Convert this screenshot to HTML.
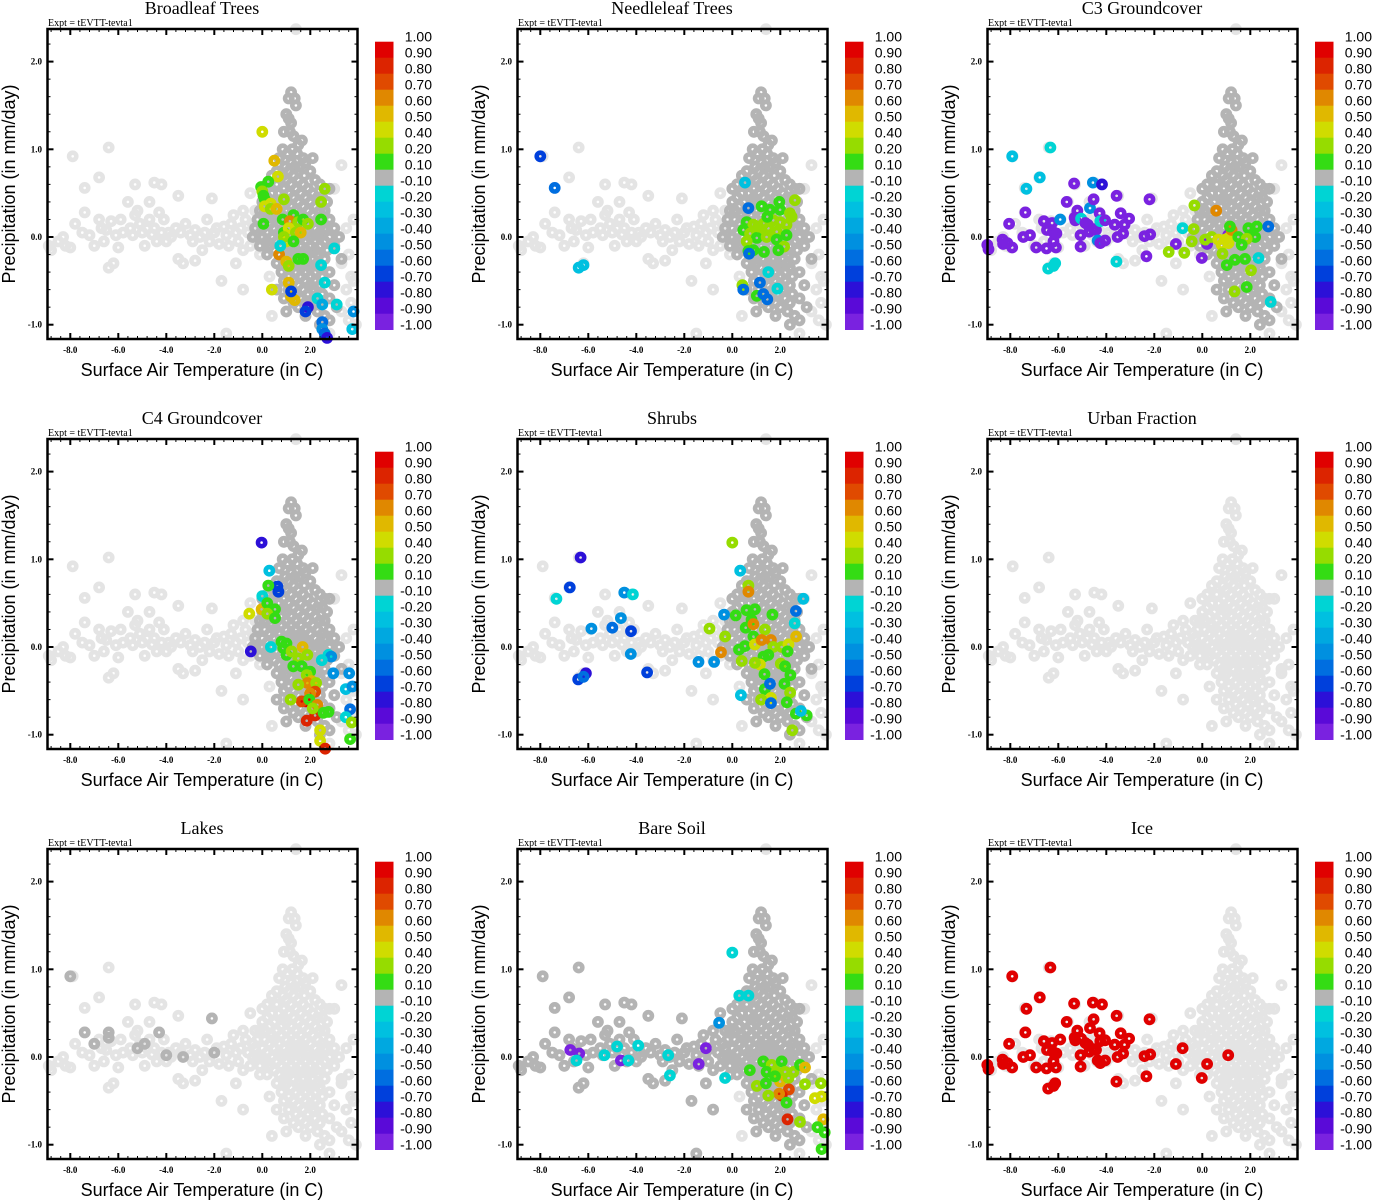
<!DOCTYPE html>
<html><head><meta charset="utf-8"><style>
html,body{margin:0;padding:0;background:#fff;}
svg{display:block;}
.tt{font-family:"Liberation Serif",serif;font-size:18px;}
.ex{font-family:"Liberation Serif",serif;font-size:10px;}
.tk{font-family:"Liberation Serif",serif;font-size:9px;font-weight:bold;}
.at{font-family:"Liberation Sans",sans-serif;font-size:18px;}
.cb{font-family:"Liberation Sans",sans-serif;font-size:14px;}
</style></head><body>
<svg id="fig" width="1373" height="1200" viewBox="0 0 1373 1200" xmlns="http://www.w3.org/2000/svg"></svg>
<script>
// ---- data ----
const panelTitles = ["Broadleaf Trees","Needleleaf Trees","C3 Groundcover","C4 Groundcover","Shrubs","Urban Fraction","Lakes","Bare Soil","Ice"];
const xTicks = [-8,-6,-4,-2,0,2];
const yTicks = [-1,0,1,2];
const cbLabels = ["1.00","0.90","0.80","0.70","0.60","0.50","0.40","0.20","0.10","-0.10","-0.20","-0.30","-0.40","-0.50","-0.60","-0.70","-0.80","-0.90","-1.00"];
const cbColors = ["#e00000","#dc2400","#e04a00","#e08800","#e0b800","#d0dc00","#96dc00","#34dc14","#b4b4b4","#00d4d4","#00c0e0","#00a8e0","#0090e0","#006ee0","#0040dc","#2c10d8","#5a0ad8","#7a22e0"];
const cbBounds = [0.9,0.8,0.7,0.6,0.5,0.4,0.2,0.1,-0.1,-0.2,-0.3,-0.4,-0.5,-0.6,-0.7,-0.8,-0.9];
const bandPts = [-8.9,-0.1,-8.8,-0.15,-8.5,-0.05,-8.3,0,-8.2,-0.1,-8,-0.12,-7.8,0.15,-7.5,0.05,-7.4,0.28,-7.2,0.02,-7,-0.1,-6.8,0.2,-6.7,0.1,-6.6,-0.05,-6.5,0.08,-6.4,-0.35,-6.3,0.18,-6.2,-0.3,-6.1,0.02,-6,-0.12,-5.9,0.2,-5.8,0.05,-5.6,0.4,-5.5,0.1,-5.4,0.02,-5.3,0.25,-5.2,0.3,-5.1,0.15,-5,0.05,-4.9,-0.1,-4.8,0.1,-4.7,0.2,-4.6,0.03,-4.5,0.1,-4.4,-0.05,-4.3,0.28,-4.2,0.05,-4.1,0.2,-4,-0.05,-3.9,0.05,-3.8,0,-3.6,0.1,-3.5,-0.25,-3.4,0.05,-3.2,0.15,-3.0,0.02,-2.9,-0.05,-2.8,0.08,-2.6,0,-2.5,-0.15,-2.4,0.05,-2.3,0.2,-2.2,-0.05,-2.0,0.05,-1.9,0.1,-1.8,-0.08,-1.6,0.12,-1.5,0.02,-1.4,-0.1,-1.3,0.15,-1.2,0.25,-1.1,0.05,-1.0,-0.05,-0.9,0.1,-0.8,-0.15,-0.7,0.2,-0.6,0.05,-0.5,-0.1,-0.4,0.15,-0.3,0.3,-0.2,0,-0.1,-0.2,
-7.9,0.92,-6.4,1.02,-6.8,0.68,-7.4,0.56,-5.3,0.6,-4.5,0.62,-4.2,0.6,-3.5,0.47,-2.1,0.44,-4.7,0.4,-3.3,-0.3,-2.8,-0.27,-1.7,-0.5,-1.1,-0.3,-0.8,-0.6,-1.5,-1.1,-0.5,0.5,-0.8,0.3];
const edgePts = [3.6,-0.2,3.8,-0.5,3.5,-0.6,3.7,-0.75,2.8,-1.1,3.3,-0.3,3.5,0.1,3.7,-0.45,1.4,2.37,3.9,-1.0,3.3,0.82,0.4,-0.9,0.3,-0.45,3.0,0.55,3.3,-0.85,3.8,0.2,3.6,-0.95];
const blobPts = [1.2,1.65,1.1,1.58,1.35,1.58,1.4,1.5,1.0,1.4,1.1,1.35,1.2,1.3,0.9,1.2,1.15,1.2,1.3,1.15,1.65,1.1,1.5,1.05,0.85,1.0,1.25,1.0,1.05,0.95,1.45,0.95,0.7,0.9,1.7,0.9,2.1,0.9,1.2,0.85,1.8,0.85,0.95,0.8,1.35,0.8,1.55,0.8,0.6,0.75,1.1,0.75,2.0,0.75,0.4,0.7,0.85,0.7,1.3,0.7,1.75,0.7,1.0,0.65,1.5,0.65,2.2,0.65,0.2,0.6,0.6,0.6,1.2,0.6,1.7,0.6,2.4,0.6,0.0,0.55,0.9,0.55,1.4,0.55,1.9,0.55,2.6,0.55,2.8,0.55,0.4,0.5,0.7,0.5,1.1,0.5,1.6,0.5,2.1,0.5,0.2,0.45,0.9,0.45,1.3,0.45,1.8,0.45,2.3,0.45,2.5,0.45,0.0,0.4,0.5,0.4,1.0,0.4,1.5,0.4,2.0,0.4,2.7,0.4,0.3,0.35,0.8,0.35,1.2,0.35,1.7,0.35,2.2,0.35,-0.1,0.3,0.1,0.3,0.6,0.3,1.0,0.3,1.4,0.3,1.9,0.3,2.4,0.3,2.6,0.3,0.4,0.25,0.8,0.25,1.2,0.25,1.6,0.25,2.1,0.25,-0.2,0.2,0.1,0.2,0.5,0.2,1.0,0.2,1.4,0.2,1.8,0.2,2.3,0.2,2.8,0.2,0.3,0.15,0.7,0.15,1.2,0.15,1.6,0.15,2.0,0.15,2.5,0.15,-0.3,0.1,0.0,0.1,0.5,0.1,0.9,0.1,1.3,0.1,1.7,0.1,2.2,0.1,2.6,0.1,3.0,0.1,0.2,0.05,0.7,0.05,1.1,0.05,1.5,0.05,1.9,0.05,2.4,0.05,-0.4,0.0,0.0,0.0,0.4,0.0,0.8,0.0,1.2,0.0,1.6,0.0,2.0,0.0,2.4,0.0,2.8,0.0,3.2,0.0,0.2,-0.05,0.6,-0.05,1.0,-0.05,1.4,-0.05,1.8,-0.05,2.2,-0.05,2.6,-0.05,-0.1,-0.1,0.3,-0.1,0.8,-0.1,1.2,-0.1,1.6,-0.1,2.0,-0.1,2.4,-0.1,3.0,-0.1,0.5,-0.15,1.0,-0.15,1.4,-0.15,1.8,-0.15,2.2,-0.15,2.7,-0.15,0.2,-0.2,0.7,-0.2,1.1,-0.2,1.5,-0.2,1.9,-0.2,2.3,-0.2,0.9,-0.25,1.3,-0.25,1.7,-0.25,2.1,-0.25,2.6,-0.25,3.3,-0.25,0.6,-0.3,1.0,-0.3,1.5,-0.3,1.9,-0.3,2.3,-0.3,1.2,-0.35,1.6,-0.35,2.0,-0.35,2.4,-0.35,0.8,-0.4,1.4,-0.4,1.8,-0.4,2.2,-0.4,2.8,-0.4,1.1,-0.45,1.6,-0.45,2.0,-0.45,2.5,-0.45,0.9,-0.5,1.3,-0.5,1.8,-0.5,2.2,-0.5,1.5,-0.55,2.0,-0.55,2.4,-0.55,3.0,-0.55,0.6,-0.6,1.1,-0.6,1.7,-0.6,2.1,-0.6,1.4,-0.65,1.9,-0.65,2.5,-0.65,0.9,-0.7,1.6,-0.7,2.2,-0.7,2.8,-0.7,1.3,-0.75,1.8,-0.75,2.4,-0.75,1.5,-0.8,2.0,-0.8,3.1,-0.8,1.0,-0.85,2.3,-0.85,1.8,-0.9,2.6,-0.9,2.8,-0.95,2.4,-1.0];
const lakesGray = [-8.0,0.92,-7.4,0.28,-6.4,0.28,-6.4,0.22,-5.2,0.1,-4.9,0.15,-4.3,0.28,-4.0,0.02,-3.3,0.0,-2.1,0.44,-2.0,0.05,-7.0,0.15];
const coldT = [-8.96,-8.91,-8.32,-8.3,-8.12,-7.92,-8.05,-7.92,-7.46,-7.37,-7.33,-7.18,-6.92,-6.77,-6.6,-6.47,-6.49,-6.42,-6.33,-6.26,-6.23,-6.2,-6.2,-6.13,-6.1,-6.08,-5.92,-5.65,-5.34,-5.32,-5.29,-5.21,-5.07,-5.07,-5.05,-4.87,-4.77,-4.71,-4.68,-4.56,-4.53,-4.53,-4.43,-4.36,-4.28,-4.25,-4.25,-4.18,-4.05,-4.05,-3.65,-3.57,-3.58,-3.53,-3.4,-3.3,-3.24,-3.05,-2.41,-2.33,-2.2,-2.17,-1.1,-0.82,-0.02,0.2,1.08];
const coldP = [-0.09,-0.14,-0.03,-0.08,-0.07,-0.12,0.15,0.92,0.0,0.28,0.55,0.02,-0.12,0.68,0.18,0.08,-0.13,-0.36,1.02,0.16,0.06,-0.05,-0.33,-0.3,-0.12,0.04,0.2,0.4,0.61,0.22,0.19,0.3,0.02,-0.11,0.21,0.16,0.14,0.06,0.33,0.62,0.43,0.09,0.08,-0.04,0.27,0.18,-0.07,0.6,0.19,-0.04,0.14,0.47,-0.28,0.0,0.27,0.04,0.14,0.21,0.01,-0.22,0.43,0.03,-0.08,0.1,-0.24,-0.08,0.02];
const c3ColdVals = [-0.95,-0.95,-0.95,-0.95,-0.95,-0.95,-0.95,-0.3,-0.95,-0.95,-0.3,-0.95,-0.95,-0.3,-0.95,-0.95,-0.95,-0.2,-0.2,-0.95,-0.95,-0.95,-0.2,-0.2,-0.95,-0.95,-0.5,-0.95,-0.95,-0.95,-0.95,-0.95,-0.95,-0.95,-0.2,-0.95,-0.95,-0.95,-0.5,-0.5,-0.95,-0.95,-0.95,-0.5,-0.95,-0.2,-0.95,-0.8,-0.95,-0.95,-0.95,-0.95,-0.2,-0.95,-0.95,-0.95,-0.95,-0.95,-0.95,-0.95,-0.95,-0.95,-0.95,-0.2,-0.95,-0.95,-0.95];
const iceColdVals = [0.95,0.95,0.95,0.95,0.95,0.95,0.95,0.95,0.95,0.95,0.95,0.95,0.95,0.95,0.95,0.95,0.95,0.95,0.95,0.95,0.95,0.95,0.95,0.95,0.95,0.95,0.95,0.95,0.95,0.95,0.95,0.95,0.95,0.95,0.95,0.95,0.95,0.95,0.95,0.95,0.95,0.95,0.95,0.95,0.95,0.95,0.95,0.95,0.95,0.95,0.95,0.95,0.95,0.95,0.95,0.95,0.95,0.95,0.95,0.95,0.95,0.95,0.95,0.95,0.95,0.95,0.95];
const broadleafPts = [0,1.2,0.4,0.5,0.87,0.5,0.65,0.69,0.4,0.25,0.63,0.1,-0.05,0.57,0.15,0,0.52,0.2,0.05,0.47,0.1,0.1,0.43,0.15,0.35,0.38,0.4,0.1,0.35,0.4,0.35,0.32,0.2,0.6,0.32,0.5,0.9,0.43,0.2,1.3,0.25,0.15,0.85,0.2,0.1,1.15,0.18,0.6,1.5,0.17,0.2,1.7,0.2,0.15,1.9,0.15,0.2,0.9,0.05,0.15,1.1,0.1,0.4,1.4,0.05,0.3,1.6,0.05,0.5,1.0,-0.05,0.4,0.9,0,0.3,1.3,-0.05,0.15,0.05,0.15,0.1,2.45,0.2,0.1,2.6,0.55,0.3,2.45,0.4,0.3,0.7,-0.2,0.6,1.0,-0.28,0.5,1.1,-0.33,0.3,1.5,-0.25,0.1,0.4,-0.6,0.4,1.1,-0.52,0.5,1.2,-0.68,0.5,1.35,-0.72,0.5,1.2,-0.62,-0.7,3.0,-0.13,-0.2,2.6,-0.52,-0.2,2.45,-0.32,-0.2,2.3,-0.7,-0.2,2.5,-0.77,-0.4,3.1,-0.77,-0.2,1.9,-0.8,-0.8,1.8,-0.85,-0.7,2.5,-0.97,-0.6,2.5,-1.05,-0.5,2.6,-1.1,-0.6,2.7,-1.15,-0.8,3.8,-0.85,-0.5,3.75,-1.05,-0.3,0.75,-0.1,-0.2,1.7,-0.25,0.1];
const needleleafPts = [-8.0,0.92,-0.7,-7.4,0.56,-0.6,-6.4,-0.35,-0.3,-6.2,-0.32,-0.3,0.53,0.62,-0.3,0.67,0.33,-0.6,1.96,0.4,0.1,2.61,0.42,0.3,1.22,0.35,0.1,1.57,0.31,0.1,1.99,0.31,0.1,2.4,0.27,0.3,2.47,0.23,0.3,0.6,0.17,0.1,0.88,0.14,0.3,1.3,0.15,0.3,1.71,0.19,0.3,1.99,0.17,0.3,2.26,0.14,0.3,0.46,0.08,0.1,0.74,0.04,0.3,1.15,0.08,0.3,1.5,0.1,0.3,1.85,0.06,0.3,2.26,0.02,0.1,1.02,-0.01,0.1,1.43,0.0,0.3,1.85,-0.03,0.1,0.6,-0.05,0.3,2.16,-0.11,0.3,0.67,-0.16,0.1,0.88,-0.15,0.1,1.32,-0.17,0.1,1.92,-0.15,0.1,1.46,0.23,0.1,1.08,0.12,0.3,0.42,-0.55,0.3,0.46,-0.6,-0.6,1.15,-0.52,-0.6,1.02,-0.67,0.1,1.46,-0.71,-0.6,1.29,-0.65,-0.6,1.88,-0.59,-0.2,1.5,-0.4,-0.2,0.7,-0.19,-0.6];
const c3BlobPts = [-0.33,0.36,0.3,0.58,0.3,0.6,-0.36,0.09,0.3,-0.44,-0.05,0.3,-1.4,-0.17,0.3,-0.75,-0.18,0.3,0.12,-0.03,0.3,0.39,0.0,0.3,0.67,-0.03,0.45,0.95,-0.03,0.45,1.09,-0.01,0.45,1.22,0.08,0.6,0.81,-0.09,0.45,1.09,-0.07,0.45,1.5,0.0,0.1,1.92,0.1,0.1,2.27,0.12,0.1,2.2,0.0,0.1,1.85,-0.02,0.3,1.64,-0.09,0.1,0.84,-0.19,0.3,1.36,-0.26,0.1,1.02,-0.32,0.1,1.78,-0.25,0.1,2.03,-0.38,0.3,1.85,-0.57,0.1,1.34,-0.62,0.3,1.15,0.12,0.1,2.34,-0.24,-0.2,2.75,0.12,-0.6,2.85,-0.74,-0.2];
const c4Pts = [-0.03,1.19,-0.8,0.29,0.87,-0.3,0.63,0.69,-0.7,0.67,0.63,-0.7,0.25,0.7,0.1,0,0.58,-0.2,-0.03,0.43,0.5,-0.54,0.38,0.4,0.21,0.5,0.1,0.53,0.43,0.1,0.21,0.38,0.3,0.53,0.33,0.1,-0.48,-0.05,-0.8,0.36,0.0,-0.2,0.8,0.06,0.1,1.01,0.04,0.1,0.87,-0.01,0.1,1.01,-0.09,0.1,1.22,-0.05,0.3,1.68,0.0,0.5,1.5,-0.13,0.3,1.88,-0.09,0.3,1.29,-0.22,0.1,1.64,-0.22,0.1,1.99,-0.28,0.1,1.85,-0.32,0.3,2.06,-0.39,0.5,1.88,-0.41,0.6,2.24,-0.41,0.3,1.5,-0.43,0.3,2.2,-0.51,0.7,1.99,-0.53,0.6,1.82,-0.62,0.95,1.64,-0.62,0.7,1.96,-0.6,0.1,1.18,-0.6,0.3,2.29,-0.66,0.6,2.2,-0.78,0.8,1.85,-0.84,0.8,2.1,-0.7,0.3,2.55,-0.75,0.1,2.76,-0.74,0.1,2.41,-0.95,0.45,2.41,-1.07,0.45,2.62,-1.16,0.8,2.76,-0.09,-0.2,2.87,-0.11,-0.5,2.48,-0.15,-0.2,2.96,-0.3,-0.5,3.62,-0.3,-0.5,3.48,-0.48,-0.3,3.76,-0.45,-0.5,3.66,-0.71,-0.6,3.48,-0.8,-0.2,3.73,-0.86,0.3,3.66,-1.05,0.1];
const shrubPts = [-6.32,1.02,-0.8,-6.77,0.68,-0.7,-7.33,0.55,-0.2,-4.5,0.62,-0.5,-4.14,0.6,-0.2,-4.64,0.33,-0.5,-5.0,0.22,-0.6,-4.22,0.18,-0.7,-5.87,0.21,-0.5,-4.23,-0.08,-0.5,-6.1,-0.3,-0.8,-6.42,-0.37,-0.7,-6.2,-0.34,-0.6,-3.55,-0.29,-0.7,-1.41,-0.17,-0.5,-0.76,-0.17,-0.5,-0.34,0.37,-0.5,-0.95,0.21,0.3,0.0,1.19,0.3,0.33,0.87,-0.3,0.67,0.7,0.3,0.67,0.63,0.6,-0.47,-0.06,0.6,0.14,0.36,0.1,0.59,0.42,0.1,0.94,0.43,0.1,0.8,0.31,0.1,0.56,0.22,0.1,0.88,0.26,0.6,1.36,0.2,0.3,1.67,0.37,0.1,-0.3,0.12,0.3,0.28,-0.03,0.1,0.53,0.01,0.1,0.88,0.12,0.1,0.94,0.03,0.45,1.22,0.08,0.6,1.61,0.08,0.6,1.71,0.0,0.3,2.06,0.0,0.3,2.34,0.03,0.45,2.66,0.12,0.5,2.3,-0.05,0.1,1.3,-0.11,0.1,1.5,-0.09,0.1,0.39,-0.16,0.3,1.15,-0.2,0.45,0.94,-0.18,0.3,2.02,-0.19,0.3,2.2,-0.22,0.1,1.34,-0.31,0.1,2.42,-0.32,0.1,2.17,-0.42,0.1,1.36,-0.48,0.1,2.41,-0.52,0.3,1.61,-0.58,0.45,1.2,-0.6,0.3,2.27,-0.63,0.1,0.36,-0.55,-0.3,1.57,-0.42,-0.6,1.61,-0.64,-0.6,2.65,-0.76,0.1,3.1,-0.78,0.1,2.86,-0.73,-0.3,2.5,-0.95,0.3,2.65,0.41,-0.6,2.96,0.55,-0.3,2.6,0.27,-0.2];
const bareSoilPts = [0,1.19,-0.2,0.29,0.7,-0.2,0.67,0.7,-0.2,-0.55,0.39,-0.5,-6.75,0.08,-0.95,-6.38,0.04,-0.95,-6.49,-0.04,-0.2,-5.33,0.02,-0.2,-4.8,0.12,-0.2,-4.64,-0.04,-0.95,-4.33,-0.04,-0.2,-3.92,0.13,-0.2,-2.67,0.02,-0.2,-2.6,-0.21,-0.2,-1.1,0.1,-0.95,-1.4,-0.08,-0.95,-0.3,-0.24,-0.2,0.73,-0.15,0.1,1.29,-0.05,0.1,1.64,-0.09,0.3,2.06,-0.05,0.1,1.43,-0.17,0.1,1.85,-0.17,0.3,2.2,-0.17,0.3,2.55,-0.17,0.3,2.82,-0.09,0.1,3.03,-0.12,0.5,1.99,-0.28,0.5,2.34,-0.24,0.3,2.36,-0.37,0.7,2.06,-0.44,0.8,1.95,-0.42,0.6,1.5,-0.44,0.3,1.02,-0.33,0.3,2.26,-0.52,0.1,2.3,-0.71,0.8,2.82,-0.74,0.3,3.03,-0.31,0.3,3.69,-0.3,0.3,3.44,-0.47,0.45,3.72,-0.45,0.45,3.79,-0.71,0.5,3.55,-0.8,0.1,3.72,-1.05,0.1,3.85,-0.86,0.1,1.4,-0.3,0.1,1.78,-0.22,0.1];
</script>
<script>
const NS = "http://www.w3.org/2000/svg";
const svg = document.getElementById("fig");
function mk(tag, attrs, parent){ const e = document.createElementNS(NS, tag); for (const k in attrs) e.setAttribute(k, attrs[k]); (parent||svg).appendChild(e); return e; }
function binColor(v){ for (let i=0;i<cbBounds.length;i++){ if (v>=cbBounds[i]) return cbColors[i]; } return cbColors[cbColors.length-1]; }
const X0 = 262.3, XS = 24, Y0 = 237, YS = 87.7;
const L = 47.5, R = 357.5, T0 = 29, B = 339;

function drawPanel(idx){
  const col = idx % 3, row = Math.floor(idx/3);
  const ox = col*470, oy = row*410;
  const g = mk("g", {transform:`translate(${ox},${oy})`});
  
  
  const sx = t => X0 + XS*t, sy = p => Y0 - YS*p;
  const title = mk("text", {x:202, y:14, "text-anchor":"middle", class:"tt"}, g);
  title.textContent = panelTitles[idx];
  
  
  const ex = mk("text", {x:48, y:26, class:"ex"}, g);
  ex.textContent = "Expt = tEVTT-tevta1";
  
  
  const pts = mk("g", {fill:"none", "stroke-width":4.6}, g);
  
  
  function dot(t,p,color){
    const c = mk("circle", {cx:sx(t).toFixed(1), cy:sy(p).toFixed(1), r:3.6, stroke:color}, pts);
    
    
  }
  const light = "#e4e4e4", dark = "#b4b4b4";
  [bandPts, edgePts, blobPts].forEach(a => { for (let i=0;i<a.length;i+=2) dot(a[i],a[i+1],light); });
  if ([0,1,2,3,4,7].includes(idx)) { for (let i=0;i<blobPts.length;i+=2) dot(blobPts[i],blobPts[i+1],dark); }
  if (idx===7) { for (let i=0;i<bandPts.length;i+=2) dot(bandPts[i],bandPts[i+1],dark); }
  if (idx===6) { for (let i=0;i<lakesGray.length;i+=2) dot(lakesGray[i],lakesGray[i+1],dark); }
  let colored = [];
  if (idx===0) colored = broadleafPts;
  if (idx===1) colored = needleleafPts;
  if (idx===2) { for (let i=0;i<coldT.length;i++) dot(coldT[i],coldP[i],binColor(c3ColdVals[i])); colored = c3BlobPts; }
  if (idx===3) colored = c4Pts;
  if (idx===4) colored = shrubPts;
  if (idx===7) colored = bareSoilPts;
  if (idx===8) { for (let i=0;i<coldT.length;i++) dot(coldT[i],coldP[i],binColor(iceColdVals[i])); }
  for (let i=0;i<colored.length;i+=3) dot(colored[i],colored[i+1],binColor(colored[i+2]));
  const fr = mk("rect", {x:L, y:T0, width:R-L, height:B-T0, fill:"none", stroke:"#000", "stroke-width":2.5}, g);
  
  
  const tg = mk("g", {stroke:"#000"}, g);
  
  
  for (let t=-8.8; t<=3.9; t+=0.4){ const x=sx(t); if (x<L+1||x>R-1) continue;
    mk("line",{x1:x,y1:B,x2:x,y2:B-3,"stroke-width":1},tg); mk("line",{x1:x,y1:T0,x2:x,y2:T0+3,"stroke-width":1},tg); }
  for (let p=-1.2; p<=2.4; p+=0.2){ const y=sy(p); if (y<T0+1||y>B-1) continue;
    mk("line",{x1:L,y1:y,x2:L+3,y2:y,"stroke-width":1},tg); mk("line",{x1:R,y1:y,x2:R-3,y2:y,"stroke-width":1},tg); }
  xTicks.forEach(t => { const x=sx(t);
    mk("line",{x1:x,y1:B,x2:x,y2:B-6,"stroke-width":2},tg); mk("line",{x1:x,y1:T0,x2:x,y2:T0+6,"stroke-width":2},tg);
    const lb = mk("text",{x:x, y:B+14, "text-anchor":"middle", class:"tk"}, g); lb.textContent = t.toFixed(1);
    
     });
  yTicks.forEach(p => { const y=sy(p);
    mk("line",{x1:L,y1:y,x2:L+6,y2:y,"stroke-width":2},tg); mk("line",{x1:R,y1:y,x2:R-6,y2:y,"stroke-width":2},tg);
    const lb = mk("text",{x:42, y:y+3, "text-anchor":"end", class:"tk"}, g); lb.textContent = p.toFixed(1);
    
     });
  const xt = mk("text",{x:202, y:376, "text-anchor":"middle", class:"at"}, g); xt.textContent = "Surface Air Temperature (in C)";
  
  
  const yt = mk("text",{x:0, y:0, "text-anchor":"middle", class:"at", transform:"translate(15,184) rotate(-90)"}, g); yt.textContent = "Precipitation (in mm/day)";
  
  
  const cb = mk("g", {}, g);
  
  
  cbColors.forEach((c,i) => { const r = mk("rect",{x:375, y:41.7+16*i, width:18.5, height:16.3, fill:c}, cb);
    
     });
  cbLabels.forEach((s,i) => { const lb = mk("text",{x:432, y:41.7+16*i, "text-anchor":"end", class:"cb"}, cb); lb.textContent = s;
    
     });
}
for (let i=0;i<9;i++) drawPanel(i);
</script>
</body></html>
